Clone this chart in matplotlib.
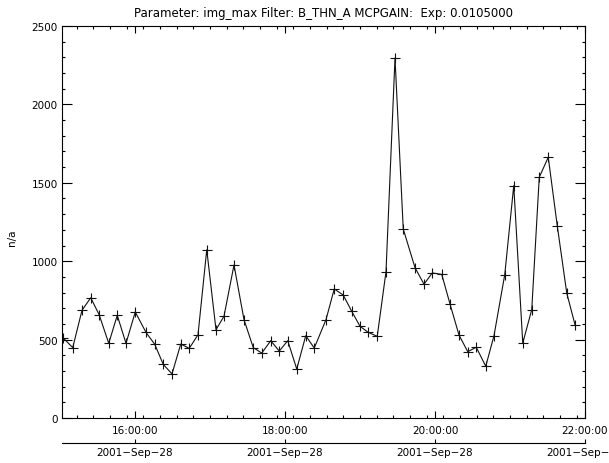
#!/usr/bin/env python3
# img_max time series, IDL-style plot

import pandas as pd
import numpy as np
import matplotlib
matplotlib.use("Agg")
import matplotlib.pyplot as plt
import matplotlib.dates as mdates
from matplotlib.ticker import MultipleLocator, FixedLocator

# ---- data ----
day = "2001-09-28"
times = ["15:02:36", "15:10:12", "15:17:36", "15:24:36", "15:31:24", "15:39:00",
         "15:45:48", "15:52:48", "16:00:12", "16:08:48", "16:15:48", "16:22:36",
         "16:29:36", "16:36:36", "16:43:24", "16:50:24", "16:57:24", "17:04:48",
         "17:11:12", "17:19:12", "17:27:12", "17:34:36", "17:41:24", "17:48:36",
         "17:55:24", "18:02:12", "18:09:24", "18:16:36", "18:23:24", "18:32:48",
         "18:39:24", "18:46:36", "18:53:24", "19:00:00", "19:06:36", "19:13:48",
         "19:20:48", "19:28:00", "19:34:36", "19:44:00", "19:51:12", "19:57:48",
         "20:05:24", "20:12:00", "20:19:12", "20:26:12", "20:33:00", "20:40:36",
         "20:47:12", "20:55:48", "21:03:00", "21:10:12", "21:17:24", "21:23:24",
         "21:30:36", "21:37:48", "21:45:24", "21:52:00"]
img_max = [510, 449, 687, 767, 657, 476, 655, 476, 676, 546, 470, 342,
           281, 472, 444, 531, 1073, 563, 649, 976, 627, 449, 414, 493,
           427, 493, 312, 525, 446, 627, 823, 784, 680, 585, 546, 521,
           933, 2296, 1205, 959, 853, 925, 916, 727, 529, 423, 451, 330,
           525, 914, 1482, 478, 691, 1535, 1663, 1227, 797, 595]

title = "Parameter: img_max Filter: B_THN_A MCPGAIN:  Exp: 0.0105000"
x_start = "15:01:36"
x_end = "22:00:00"

t = pd.to_datetime([f"{day} {s}" for s in times])
t0 = pd.Timestamp(f"{day} {x_start}")
t1 = pd.Timestamp(f"{day} {x_end}")

# ---- figure ----
W, H = 609, 464
fig = plt.figure(figsize=(W / 100, H / 100), dpi=100)
L, R, T, B = 62, 585, 27, 419
ax = fig.add_axes([L / W, 1 - B / H, (R - L) / W, (B - T) / H])

ax.plot(t, img_max, color="#111111", lw=0.8, marker="+", ms=6.5, mew=0.8)

ax.set_xlim(t0, t1)
ax.set_ylim(0, 2500)

ax.set_title(title, fontsize=8.5, pad=7)
ax.set_ylabel("n/a", fontsize=7.5)
ax.yaxis.set_label_coords(-45 / (R - L), (B - 238) / (B - T))

# y ticks
ax.yaxis.set_major_locator(MultipleLocator(500))
ax.yaxis.set_minor_locator(MultipleLocator(100))

# x ticks: 2 h majors, 800 s minors
majors = pd.date_range(f"{day} 16:00", f"{day} 22:00", freq="2h")
minors = pd.date_range(f"{day} 15:00", f"{day} 22:00", freq="800s")
minors = minors[(minors >= t0) & (minors <= t1)]
ax.xaxis.set_major_locator(FixedLocator(mdates.date2num(majors)))
ax.xaxis.set_minor_locator(FixedLocator(mdates.date2num(minors)))
ax.xaxis.set_major_formatter(mdates.DateFormatter("%H:%M:%S"))

ax.tick_params(which="both", direction="in", top=True, right=True,
               labelsize=7.5, width=0.8, color="black")
ax.tick_params(axis="y", which="major", length=7, pad=3)
ax.tick_params(axis="x", which="major", length=5, pad=5)
ax.tick_params(which="minor", length=2.5)
for s in ax.spines.values():
    s.set_linewidth(0.8)

# second axis with the date
sec = ax.secondary_xaxis(-25 / (B - T))
sec.xaxis.set_major_locator(FixedLocator(mdates.date2num(majors)))
sec.xaxis.set_major_formatter(mdates.DateFormatter("%Y\u2212%b\u2212%d"))
sec.xaxis.set_minor_locator(FixedLocator([]))
sec.tick_params(direction="in", length=3, width=0.8, labelsize=7.5, pad=3)
sec.spines["bottom"].set_linewidth(0.8)

fig.savefig("out.png", dpi=100)
